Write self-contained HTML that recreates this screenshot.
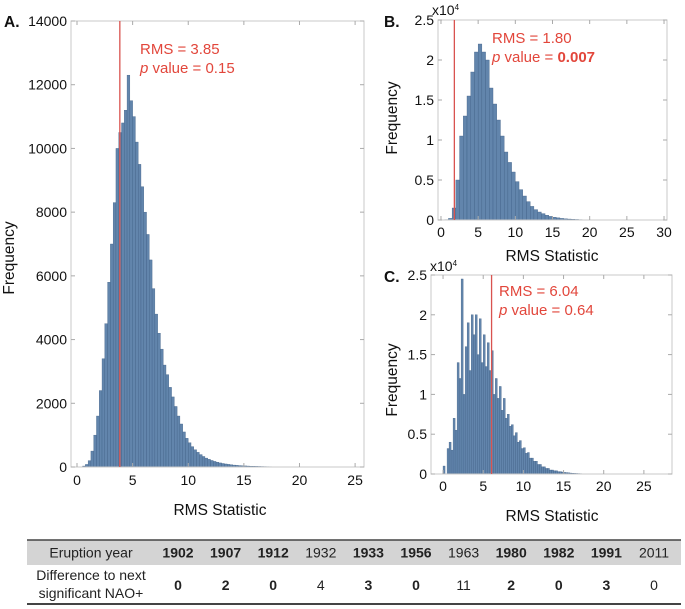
<!DOCTYPE html>
<html><head><meta charset="utf-8"><style>
html,body{margin:0;padding:0;background:#fff;}
svg{display:block;font-family:"Liberation Sans",sans-serif;}
.tick{font-size:14px;fill:#111;}
.ttl{font-size:15.5px;fill:#111;}
.ann{font-size:15px;fill:#e2463b;}
.tb{font-family:"Liberation Sans Narrow","Liberation Sans",sans-serif;font-size:14px;fill:#222;}
</style></head><body>
<svg id="fig" width="685" height="609" viewBox="0 0 685 609" xmlns="http://www.w3.org/2000/svg"></svg>
<script>
// ---- data ----
const binWidthA = 0.25;
const countsA = [0,0,30,80,200,500,1000,1600,2400,3400,4500,5800,7000,8300,10000,10500,10800,11200,12300,11500,11000,10200,9500,8800,8000,7300,6500,5600,4800,4200,3700,3200,2900,2500,2200,1900,1600,1350,1100,900,760,640,540,460,390,330,280,240,205,175,150,128,110,95,82,70,60,52,45,39,34,30,26,23,20,18,16,14,12,11,10,9,8,8,7,7,6,6,5,5,5,4,4,4,3,3,3,3,2,2,2,2,2,2,1,1,1,1,1,1];
const binWidthB = 0.5;
const countsB = [0,0.005,0.02,0.15,0.5,1.05,1.3,1.55,1.85,2.1,2.2,2.1,2.0,1.65,1.45,1.25,1.05,0.85,0.72,0.6,0.48,0.38,0.3,0.23,0.17,0.13,0.1,0.08,0.06,0.045,0.035,0.027,0.02,0.015,0.012,0.009,0.007,0.005,0.004,0.003,0.002,0.002,0.002,0.002,0.001,0.001,0.001,0.001,0.001,0.001];
const binWidthC = 0.25;
const countsC = [0.1,0,0.32,0.4,0.3,0.7,0.55,1.4,1.2,2.45,1.0,1.6,1.9,1.3,2.0,1.75,2.0,1.5,1.95,1.4,1.75,1.35,1.65,1.3,1.55,1.0,1.2,0.95,1.1,0.8,0.95,0.7,0.75,0.6,0.62,0.48,0.52,0.4,0.42,0.32,0.33,0.26,0.27,0.2,0.2,0.16,0.16,0.12,0.12,0.09,0.09,0.07,0.07,0.05,0.05,0.04,0.04,0.03,0.03,0.025,0.02,0.018,0.015,0.012,0.01,0.008,0.007,0.006,0.005,0.004,0.003,0.003,0.002,0.002,0.002,0.001,0.001,0.001,0.001,0.001];
const rmsA = 3.85, rmsB = 1.80, rmsC = 6.04;
const yTicksA = [0,2000,4000,6000,8000,10000,12000,14000];
const xTicksA = [0,5,10,15,20,25];
const yTicksBC = [0,0.5,1,1.5,2,2.5];
const yTickLabelsBC = ["0","0.5","1","1.5","2","2.5"];
const xTicksB = [0,5,10,15,20,25,30];
const xTicksC = [0,5,10,15,20,25];
const years = ["1902","1907","1912","1932","1933","1956","1963","1980","1982","1991","2011"];
const diffs = ["0","2","0","4","3","0","11","2","0","3","0"];
const bold = [1,1,1,0,1,1,0,1,1,1,0];

const NS = "http://www.w3.org/2000/svg";
const svg = document.getElementById("fig");
function mk(tag, attrs, parent, text){
  const e = document.createElementNS(NS, tag);
  for (const k in attrs) e.setAttribute(k, attrs[k]);
  if (text !== undefined) e.textContent = text;
  (parent||svg).appendChild(e);
  return e;
}

function panel(cfg){
  const g = mk("g", {});
  
  
  const {L,T,R,B,x0,x1,ymax} = cfg;
  const sx = v => L + (v - x0) / (x1 - x0) * (R - L);
  const sy = v => B - v / ymax * (B - T);
  const bars = mk("g", {}, g);
  
  
  cfg.counts.forEach((c, i) => {
    if (c <= 0) return;
    const xa = sx(i * cfg.bw), xb = sx((i + 1) * cfg.bw);
    const r = mk("rect", {x: xa, y: sy(Math.min(c, ymax)), width: Math.max(xb - xa, 0.5), height: B - sy(Math.min(c, ymax)), fill: "#5a7ea8", stroke: "#3f5f85", "stroke-width": 0.35, "fill-opacity": 0.95}, bars);
    
    
  });
  const box = mk("rect", {x: L, y: T, width: R - L, height: B - T, fill: "none", stroke: "#c8c8c8", "stroke-width": 1}, g);
  
  
  cfg.yt.forEach((v, i) => {
    const y = sy(v);
    mk("line", {x1: L, x2: L + 4, y1: y, y2: y, stroke: "#aaa"}, g);
    mk("line", {x1: R, x2: R - 4, y1: y, y2: y, stroke: "#aaa"}, g);
    const t = mk("text", {x: L - 4, y: y + 5, "text-anchor": "end", class: "tick"}, g, cfg.ytl[i]);
    
    
  });
  cfg.xt.forEach(v => {
    const x = sx(v);
    mk("line", {x1: x, x2: x, y1: B, y2: B - 4, stroke: "#aaa"}, g);
    mk("line", {x1: x, x2: x, y1: T, y2: T + 4, stroke: "#aaa"}, g);
    const t = mk("text", {x: x, y: B + cfg.xlOff, "text-anchor": "middle", class: "tick"}, g, String(v));
    
    
  });
  const ln = mk("line", {x1: sx(cfg.rms), x2: sx(cfg.rms), y1: T, y2: B, stroke: "#d9534f", "stroke-width": 1.3}, g);
  
  
  return {sx, sy, g};
}

panel({name:"panel-a", L:71, T:21, R:364, B:467, x0:-0.54, x1:25.8, ymax:14000, counts:countsA, bw:binWidthA, yt:yTicksA, ytl:yTicksA.map(String), xt:xTicksA, rms:rmsA, xlOff:18});
panel({name:"panel-b", L:438, T:20, R:667, B:220, x0:-0.4, x1:30.4, ymax:2.5, counts:countsB, bw:binWidthB, yt:yTicksBC, ytl:yTickLabelsBC, xt:xTicksB, rms:rmsB, xlOff:17});
panel({name:"panel-c", L:431, T:275, R:672, B:474, x0:-1.5, x1:28.5, ymax:2.5, counts:countsC, bw:binWidthC, yt:yTicksBC, ytl:yTickLabelsBC, xt:xTicksC, rms:rmsC, xlOff:17});

function txt(x, y, s, cls, name, extra){
  const t = mk("text", Object.assign({x: x, y: y, class: cls}, extra || {}), svg, s);
  
  
  return t;
}
txt(4, 27, "A.", "ttl", "panel-a-label", {"font-weight": "bold"});
txt(384, 27, "B.", "ttl", "panel-b-label", {"font-weight": "bold"});
txt(384, 282, "C.", "ttl", "panel-c-label", {"font-weight": "bold"});
txt(220, 515, "RMS Statistic", "ttl", "panel-a-x-axis-title", {"text-anchor": "middle"});
txt(552, 261, "RMS Statistic", "ttl", "panel-b-x-axis-title", {"text-anchor": "middle"});
txt(552, 521, "RMS Statistic", "ttl", "panel-c-x-axis-title", {"text-anchor": "middle"});
txt(0, 0, "Frequency", "ttl", "panel-a-y-axis-title", {"text-anchor": "middle", transform: "translate(14,258) rotate(-90)"});
txt(0, 0, "Frequency", "ttl", "panel-b-y-axis-title", {"text-anchor": "middle", transform: "translate(397,118) rotate(-90)"});
txt(0, 0, "Frequency", "ttl", "panel-c-y-axis-title", {"text-anchor": "middle", transform: "translate(397,380) rotate(-90)"});
const e1 = txt(432, 15, "x10", "tick", "panel-b-exponent", {"font-size": "11"});
mk("tspan", {dy: -5, "font-size": 8}, e1, "4");
const e2 = txt(430, 271, "x10", "tick", "panel-c-exponent", {"font-size": "11"});
mk("tspan", {dy: -5, "font-size": 8}, e2, "4");
txt(140, 54, "RMS = 3.85", "ann", "panel-a-rms-annotation");
const pa = txt(140, 73, "", "ann", "panel-a-p-value");
mk("tspan", {"font-style": "italic"}, pa, "p");
mk("tspan", {}, pa, " value = 0.15");
txt(492, 43, "RMS = 1.80", "ann", "panel-b-rms-annotation");
const pb = txt(492, 62, "", "ann", "panel-b-p-value");
mk("tspan", {"font-style": "italic"}, pb, "p");
mk("tspan", {}, pb, " value = ");
mk("tspan", {"font-weight": "bold"}, pb, "0.007");
txt(499, 296, "RMS = 6.04", "ann", "panel-c-rms-annotation");
const pc = txt(499, 315, "", "ann", "panel-c-p-value");
mk("tspan", {"font-style": "italic"}, pc, "p");
mk("tspan", {}, pc, " value = 0.64");

const tg = mk("g", {});


mk("rect", {x: 27, y: 540, width: 654, height: 25, fill: "#d4d4d4"}, tg);
mk("line", {x1: 27, x2: 681, y1: 540, y2: 540, stroke: "#444", "stroke-width": 1.5}, tg);
mk("line", {x1: 27, x2: 681, y1: 604, y2: 604, stroke: "#444", "stroke-width": 2}, tg);
const h = mk("text", {x: 91, y: 557.5, "text-anchor": "middle", class: "tb"}, tg, "Eruption year");


const r1 = mk("text", {x: 91, y: 580, "text-anchor": "middle", class: "tb"}, tg, "Difference to next");


const r2 = mk("text", {x: 91, y: 598, "text-anchor": "middle", class: "tb"}, tg, "significant NAO+");


years.forEach((yr, i) => {
  const x = 178 + i * 47.6;
  const fw = bold[i] ? "bold" : "normal";
  const a = mk("text", {x: x, y: 557.5, "text-anchor": "middle", class: "tb", "font-weight": fw}, tg, yr);
  
  
  const b = mk("text", {x: x, y: 590, "text-anchor": "middle", class: "tb", "font-weight": fw}, tg, diffs[i]);
  
  
});
</script>
</body></html>
